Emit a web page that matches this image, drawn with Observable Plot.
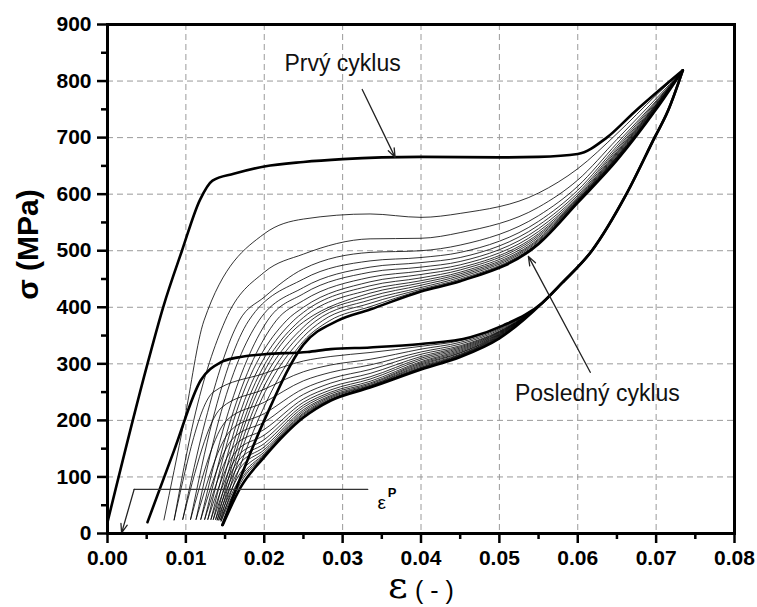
<!DOCTYPE html>
<html><head><meta charset="utf-8">
<script src="https://cdn.jsdelivr.net/npm/d3@7"></script>
<script src="https://cdn.jsdelivr.net/npm/@observablehq/plot@0.6"></script>
<style>body{margin:0;background:#fff;} svg{display:block;}</style>
</head><body><div id="chart"></div>
<script>
// ---- axes ----
const xTicks = [0, 0.01, 0.02, 0.03, 0.04, 0.05, 0.06, 0.07, 0.08];
const xMinor = [0.005, 0.015, 0.025, 0.035, 0.045, 0.055, 0.065, 0.075];
const yTicks = [0, 100, 200, 300, 400, 500, 600, 700, 800, 900];
const yMinor = [50, 150, 250, 350, 450, 550, 650, 750, 850];

// ---- first cycle (thick) ----
const load1X = [0, 0.0051, 0.0071, 0.0095, 0.0118, 0.0134, 0.0161, 0.020, 0.025, 0.030, 0.035, 0.040, 0.050, 0.055, 0.0600, 0.0637, 0.0672, 0.0705, 0.0734];
const load1Y = [20, 300, 400, 500, 590, 624, 636, 649, 657, 662, 665, 666, 665, 666, 671, 700, 745, 785, 819];
// common unloading path from the peak (thick)
const unloadPathX = [0.0734, 0.0715, 0.0698, 0.0662, 0.0618, 0.0580, 0.0555];
const unloadPathY = [819, 747, 700, 600, 500, 443, 408];
// first cycle unloading, lower part
const unload1X = [0.0505, 0.0463, 0.040, 0.0335, 0.0285, 0.0255, 0.020, 0.0165, 0.0145, 0.0119, 0.0085, 0.0051];
const unload1Y = [368, 347, 335, 329, 326, 321, 317, 311, 303, 271, 147, 20];
const peakX = 0.0734, peakY = 819;

// ---- loading curves, cycles 2..17 (last one thick) ----
const loadX0   = [0.0072, 0.0085, 0.0096, 0.0106, 0.0113, 0.0119, 0.0124, 0.0128, 0.0132, 0.0135, 0.0138, 0.0140, 0.0142, 0.0144, 0.0145, 0.01465];
const loadY0   = [24, 24, 25, 25, 25, 25, 25, 25, 25, 25, 25, 24, 24, 24, 22, 15];
const loadX200 = [0.0098, 0.0110, 0.0125, 0.0134, 0.0142, 0.0151, 0.0157, 0.0161, 0.0166, 0.0170, 0.0174, 0.0177, 0.0181, 0.0185, 0.0192, 0.0200];
const loadX376 = [0.0123, 0.0150, 0.0168, 0.0180, 0.0193, 0.0204, 0.0215, 0.0228, 0.0237, 0.0245, 0.0252, 0.0259, 0.0266, 0.0274, 0.0283, 0.0293];
const loadColX = [0.020, 0.025, 0.0335, 0.040, 0.045, 0.055, 0.060, 0.065, 0.070];
const loadY020  = [530, 462, 418, null, null, null, null, null, null, null, null, null, null, null, null, null];
const loadY025  = [556, 494, 468, 450, 435, 424, 412, 400, 391, 382, 374, 365, 357, 348, 340, 334];
const loadY0335 = [565, 521, 497, 482, 471, 462, 453, 445, 438, 431, 425, 419, 413, 407, 401, 396];
const loadY040  = [559, 522, 500, 488, 479, 471, 464, 458, 452, 447, 443, 439, 435, 432, 430, 428];
const loadY045  = [566, 532, 510, 497, 488, 481, 475, 470, 466, 462, 459, 456, 453, 450, 448, 446];
const loadY055  = [602, 577, 562, 552, 545, 539, 534, 530, 527, 524, 521, 519, 517, 515, 514, 512];
const loadY060  = [645, 625, 614, 607, 602, 598, 595, 593, 591, 590, 589, 588, 587, 586, 586, 585];
const loadY065  = [707, 697, 690, 685, 681, 678, 675, 673, 671, 669, 667, 666, 665, 664, 663, 660];
const loadY070  = [775, 769, 765, 763, 761, 759, 758, 757, 756, 755, 754, 753, 752, 751, 751, 750];

// ---- unloading curves, cycles 2..17 (last one thick) ----
const unloadColX = [0.050, 0.045, 0.040, 0.0335, 0.0285, 0.025, 0.020];
const unY050  = [364, 362, 360, 358, 357, 356, 355, 354, 353, 352, 351, 350, 349, 348, 347, 345];
const unY045  = [341, 338, 335, 332, 330, 328, 326, 324, 322, 320, 319, 317, 316, 315, 314, 312];
const unY040  = [331, 326, 321, 317, 313, 310, 307, 304, 302, 300, 298, 296, 294, 293, 292, 290];
const unY0335 = [320, 308, 298, 290, 283, 277, 273, 269, 266, 264, 262, 261, 260, 259, 259, 258];
const unY0285 = [313, 298, 285, 274, 266, 259, 254, 250, 247, 244, 242, 240, 238, 237, 236, 235];
const unY025  = [305, 286, 270, 256, 246, 238, 232, 227, 223, 219, 216, 213, 211, 209, 207, 205];
const unY020  = [283, 255, 232, 212, 197, 184, 174, 166, 159, 153, 148, 144, 141, 139, 137, 135];
const unKneeX = [0.0135, 0.0145, 0.0152, 0.0157, 0.0160, 0.0162, 0.0164, 0.0165, 0.0166, 0.0167, 0.0168, 0.0169, 0.0170, 0.0170, 0.0170, 0.0170];
const unKneeY = [250, 222, 200, 182, 168, 155, 145, 135, 127, 120, 113, 106, 100, 95, 90, 82];
const unEndX  = [0.0085, 0.0096, 0.0106, 0.0113, 0.0119, 0.0124, 0.0128, 0.0132, 0.0135, 0.0138, 0.0140, 0.0142, 0.0144, 0.0145, 0.01465, 0.0147];
const unEndY  = [24, 25, 25, 25, 25, 25, 25, 25, 25, 25, 24, 24, 24, 22, 15, 15];

// ---- annotations ----
const noteText = ["Prvý cyklus", "Posledný cyklus"];
const noteX = [0.0300, 0.0625];
const noteY = [818, 234];
const arrowX1 = [0.0325, 0.0616, 0.0034];
const arrowY1 = [785, 285, 78];
const arrowX2 = [0.0367, 0.0537, 0.0018];
const arrowY2 = [665, 490, 1];
const epsLineX = [0.0332, 0.0034];
const epsLineY = [78, 78];

// ---- assemble series ----
const thin = [], thick = [];
function pushCurve(target, id, pts) {
  pts.sort((a, b) => a[0] - b[0]);
  pts.forEach(p => target.push({x: p[0], y: p[1], id}));
}
pushCurve(thick, "L1", load1X.map((x, i) => [x, load1Y[i]]));
pushCurve(thick, "U1", unloadPathX.map((x, i) => [x, unloadPathY[i]]).concat(unload1X.map((x, i) => [x, unload1Y[i]])));
const loadCols = [loadY020, loadY025, loadY0335, loadY040, loadY045, loadY055, loadY060, loadY065, loadY070];
const unCols = [unY050, unY045, unY040, unY0335, unY0285, unY025, unY020];
const n = loadX0.length;
for (let i = 0; i < n; i++) {
  const target = i === n - 1 ? thick : thin;
  const lp = [[loadX0[i], loadY0[i]], [loadX200[i], 200], [loadX376[i], 376]];
  loadCols.forEach((col, j) => { if (col[i] != null) lp.push([loadColX[j], col[i]]); });
  lp.push([peakX, peakY]);
  pushCurve(target, "L" + (i + 2), lp);
  const up = unloadPathX.map((x, k) => [x, unloadPathY[k]]);
  unCols.forEach((col, j) => up.push([unloadColX[j], col[i]]));
  up.push([unKneeX[i], unKneeY[i]], [unEndX[i], unEndY[i]]);
  pushCurve(target, "U" + (i + 2), up);
}

const notes = noteText.map((t, i) => ({t, x: noteX[i], y: noteY[i]}));
const arrows = arrowX1.map((x, i) => ({x1: x, y1: arrowY1[i], x2: arrowX2[i], y2: arrowY2[i]}));
const epsLine = epsLineX.map((x, i) => ({x, y: epsLineY[i]}));

const sans = "'Liberation Sans', Arial, sans-serif";
const chart = Plot.plot({
  width: 757, height: 607,
  marginLeft: 107, marginRight: 23, marginTop: 24, marginBottom: 74,
  x: {domain: [0, 0.08], axis: null, label: null},
  y: {domain: [0, 900], axis: null, label: null},
  style: {fontFamily: sans, background: "#fff", color: "#000", overflow: "visible"},
  marks: [
    Plot.gridX(xTicks.slice(1, -1), {stroke: "#9a9a9a", strokeOpacity: 1, strokeWidth: 1, strokeDasharray: "6,4"}),
    Plot.gridY(yTicks.slice(1, -1), {stroke: "#9a9a9a", strokeOpacity: 1, strokeWidth: 1, strokeDasharray: "6,4"}),
    Plot.line(thin, {x: "x", y: "y", z: "id", curve: "monotone-x", stroke: "#000", strokeWidth: 0.8}),
    Plot.line(thick, {x: "x", y: "y", z: "id", curve: "monotone-x", stroke: "#000", strokeWidth: 2.6}),
    Plot.line(epsLine, {x: "x", y: "y", stroke: "#333", strokeWidth: 1.3}),
    Plot.arrow(arrows, {x1: "x1", y1: "y1", x2: "x2", y2: "y2", stroke: "#222", strokeWidth: 1.3, headLength: 11, headAngle: 40}),
    Plot.text(notes, {x: "x", y: "y", text: "t", fontSize: 23, lineAnchor: "bottom", fill: "#111"}),
    Plot.text(["ε"], {x: () => 0.0350, y: () => 44, text: d => d, fontSize: 19, lineAnchor: "bottom"}),
    Plot.text(["P"], {x: () => 0.0363, y: () => 64.7, text: d => d, fontSize: 13, fontWeight: "bold", lineAnchor: "bottom"}),
    Plot.frame({strokeWidth: 3}),
    Plot.axisY(yTicks, {anchor: "left", tickSize: 10, tickPadding: 6, strokeWidth: 2.5, fontSize: 21, fontWeight: "bold", tickFormat: d => String(d), label: null}),
    Plot.axisY(yMinor, {anchor: "left", tickSize: 6, strokeWidth: 2.5, fill: "none", label: null}),
    Plot.axisX(xTicks, {anchor: "bottom", tickSize: 10, tickPadding: 7, strokeWidth: 2.5, fontSize: 21, fontWeight: "bold", tickFormat: d3.format(".2f"), label: null}),
    Plot.axisX(xMinor, {anchor: "bottom", tickSize: 6, strokeWidth: 2.5, fill: "none", label: null}),
    Plot.text(["σ (MPa)"], {x: () => -0.0101, y: () => 511, text: d => d, rotate: -90, fontSize: 30, fontWeight: "bold", lineAnchor: "middle"}),
    Plot.text(["ε"], {x: () => 0.03705, y: () => -114, text: d => d, fontSize: 38, fontFamily: "'DejaVu Serif', serif", lineAnchor: "bottom"}),
    Plot.text(["( - )"], {x: () => 0.0417, y: () => -116, text: d => d, fontSize: 25, lineAnchor: "bottom"})
  ]
});
document.getElementById("chart").appendChild(chart);
</script></body></html>
